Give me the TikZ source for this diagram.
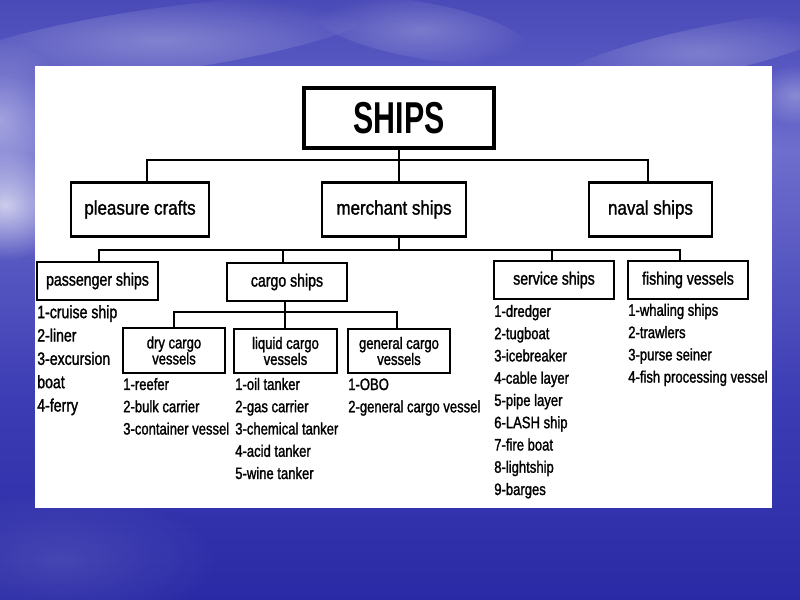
\documentclass[tikz,border=0pt]{standalone}
\usepackage{fontspec}
\setmainfont{Liberation Sans}[FakeStretch=0.86,FakeBold=1.4]
\newfontfamily\narrowfont{Liberation Sans}[FakeStretch=0.79,FakeBold=1.4]
\newfontfamily\bigfont{Liberation Sans Bold}[FakeStretch=0.68]
\usetikzlibrary{calc,fadings}
\newlength\pxu \setlength\pxu{0.75pt}
\definecolor{cA}{RGB}{74,74,184}
\definecolor{cB}{RGB}{94,94,198}
\definecolor{cC}{RGB}{110,110,205}
\definecolor{cD}{RGB}{90,90,195}
\definecolor{cE}{RGB}{60,60,180}
\definecolor{cF}{RGB}{42,42,166}
\pgfdeclareverticalshading{skysea}{100bp}{color(0bp)=(cF); color(25bp)=(cF); color(41.7bp)=(cE); color(54.2bp)=(cD); color(62.5bp)=(cC); color(66.7bp)=(cB); color(75bp)=(cA); color(100bp)=(cA)}
\tikzfading[name=soft, inner color=transparent!20, outer color=transparent!100]
\begin{document}
\begin{tikzpicture}[x=0.75pt,y=-0.75pt,
  box/.style 2 args={draw=black, line width=2pt, fill=white, inner sep=0pt,
    minimum width=#1\pxu, minimum height=#2\pxu},
  lvone/.style={font=\fontsize{14.8}{18}\selectfont},
  lvtwo/.style={font=\narrowfont\fontsize{13.4}{15}\selectfont},
  lvthree/.style={align=center, font=\narrowfont\fontsize{12.4}{12}\selectfont},
  listtext/.style={anchor=base west, align=left, inner sep=0pt, font=\narrowfont\fontsize{12.4}{16.7}\selectfont},
  conn/.style={draw=black, line width=2.2pt, line join=miter}]
\useasboundingbox (0,0) rectangle (800,600);
% background
\shade[shading=skysea] (0,0) rectangle (800,600);
\fill[white, path fading=soft, opacity=0.85] (5,205) ellipse [x radius=70, y radius=55];
\fill[white, path fading=soft, opacity=0.5] (0,120) ellipse [x radius=70, y radius=80];
\fill[white, path fading=soft, opacity=0.35, rotate around={8:(160,40)}] (160,40) ellipse [x radius=220, y radius=32];
\fill[white, path fading=soft, opacity=0.3, rotate around={-10:(420,30)}] (420,30) ellipse [x radius=110, y radius=28];
\fill[white, path fading=soft, opacity=0.3, rotate around={12:(700,52)}] (700,52) ellipse [x radius=150, y radius=24];
\fill[white, path fading=soft, opacity=0.35] (795,95) ellipse [x radius=40, y radius=30];
\fill[white, path fading=soft, opacity=0.14] (60,560) ellipse [x radius=160, y radius=70];
% panel
\fill[white] (35,66) rectangle (772,508);
% level 0 and 1
\node[box={190}{60}, line width=3pt] (ships) at (399,118) {\bigfont\fontsize{33.5}{40}\selectfont SHIPS};
\node[box={138}{54}, lvone] (pleasure) at (140,209.5) {pleasure crafts};
\node[box={144}{54}, lvone] (merchant) at (394,209.5) {merchant ships};
\node[box={123}{54}, lvone] (naval) at (650.5,209.5) {naval ships};
% level 2
\node[box={121}{38}, lvtwo] (passenger) at (97.5,281) {passenger ships};
\node[box={120}{38}, lvtwo] (cargo) at (287,282) {cargo ships};
\node[box={120}{38}, lvtwo] (service) at (554,280) {service ships};
\node[box={120}{38}, lvtwo] (fishing) at (688,280) {fishing vessels};
% level 3
\node[box={102}{45}, lvthree] (dry) at (174,350.5) {dry cargo\\vessels};
\node[box={103}{44}, lvthree] (liquid) at (285.5,351) {liquid cargo\\vessels};
\node[box={102}{44}, lvthree] (general) at (399,351) {general cargo\\vessels};
% connectors
\coordinate (bus1) at (399,160);
\coordinate (bus2) at (399,250);
\coordinate (c2) at (283,250);
\coordinate (s2) at (552,250);
\coordinate (bus3) at (285,312);
\draw[conn] (ships.south) -- (ships.south |- merchant.north);
\draw[conn] ($(pleasure.north)+(7,0)$) |- (bus1) -| ($(naval.north)+(-2.5,0)$);
\draw[conn] (ships.south |- merchant.south) -- (bus2);
\draw[conn] ($(passenger.north)+(1.5,0)$) |- (bus2) -| ($(fishing.north)+(-8,0)$);
\draw[conn] (c2) -- (c2 |- cargo.north);
\draw[conn] (s2) -- (s2 |- service.north);
\draw[conn] (bus3 |- cargo.south) -- (bus3);
\draw[conn] (dry.north) |- (bus3) -| ($(general.north)+(-2,0)$);
\draw[conn] (bus3) -- (bus3 |- liquid.north);
% lists (anchor = baseline of the last line)
\node[listtext, font=\narrowfont\fontsize{13.4}{17.5}\selectfont] (plist) at (37,411.5) {1-cruise ship\\2-liner\\3-excursion\\boat\\4-ferry};
\node[listtext] (dlist) at (123,434.5) {1-reefer\\2-bulk carrier\\3-container vessel};
\node[listtext] (llist) at (235,479) {1-oil tanker\\2-gas carrier\\3-chemical tanker\\4-acid tanker\\5-wine tanker};
\node[listtext] (glist) at (348,412.3) {1-OBO\\2-general cargo vessel};
\node[listtext] (slist) at (494,495) {1-dredger\\2-tugboat\\3-icebreaker\\4-cable layer\\5-pipe layer\\6-LASH ship\\7-fire boat\\8-lightship\\9-barges};
\node[listtext] (flist) at (628,382.6) {1-whaling ships\\2-trawlers\\3-purse seiner\\4-fish processing vessel};
\end{tikzpicture}
\end{document}
